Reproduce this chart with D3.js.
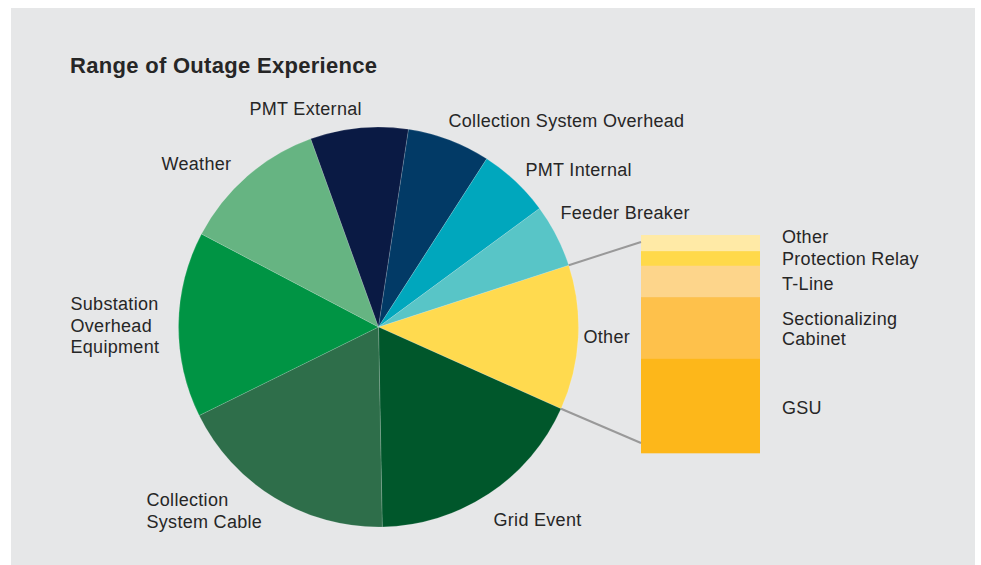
<!DOCTYPE html>
<html>
<head>
<meta charset="utf-8">
<script src="https://cdn.jsdelivr.net/npm/d3@7"></script>
<style>
  html, body { margin: 0; padding: 0; background: #fff; }
  svg { display: block; }
  text { font-family: "Liberation Sans", Arial, Helvetica, sans-serif; fill: #262626; letter-spacing: 0.3px; }
</style>
</head>
<body>
<svg id="chart" width="981" height="565"></svg>
<script>
// pie slices, clockwise starting from "Other"
const categories = ['Other', 'Grid Event', 'Collection System Cable', 'Substation Overhead Equipment',
  'Weather', 'PMT External', 'Collection System Overhead', 'PMT Internal', 'Feeder Breaker'];
const shares = [11.7, 18.0, 18.0, 15.0, 11.8, 7.9, 6.7, 5.8, 5.1];
const sliceColors = ['#ffda4f', '#00572b', '#2e6e4a', '#009444', '#66b482', '#0a1a44', '#023a66', '#00a7bd', '#58c5c7'];

// breakdown of "Other", top to bottom
const otherParts = ['Other', 'Protection Relay', 'T-Line', 'Sectionalizing Cabinet', 'GSU'];
const otherShares = [7.4, 6.7, 14.4, 28.3, 43.2];
const partColors = ['#ffeaa6', '#ffd94a', '#fdd58b', '#fec14b', '#fdb71a'];

const svg = d3.select('#chart');

svg.append('rect')
  .attr('x', 11).attr('y', 8)
  .attr('width', 964).attr('height', 557)
  .style('fill', '#e6e7e8');

svg.append('text')
  .attr('x', 70).attr('y', 73)
  .style('font-size', '22px')
  .style('font-weight', 'bold')
  .text('Range of Outage Experience');

const cx = 378.5, cy = 327, radius = 200;
const startDeg = 72;

const pie = d3.pie().sort(null).value(d => d)
  .startAngle(startDeg * Math.PI / 180)
  .endAngle((startDeg + 360) * Math.PI / 180);
const arcs = pie(shares);
const arc = d3.arc().innerRadius(0).outerRadius(radius);

const pieG = svg.append('g').attr('transform', `translate(${cx}, ${cy})`);

pieG.selectAll('path.slice')
  .data(arcs).enter().append('path')
  .attr('class', 'slice')
  .attr('d', arc)
  .style('fill', (d, i) => sliceColors[i])
  .style('stroke', 'rgba(255,255,255,0.25)')
  .style('stroke-width', '0.6px');

// label anchors, offsets from pie centre
const sliceLabelLayout = [
  { dx: 205, dy: 16, lines: ['Other'] },
  { dx: 115, dy: 199, lines: ['Grid Event'] },
  { dx: -232, dy: 179, lines: ['Collection', 'System Cable'] },
  { dx: -308, dy: -17, lines: ['Substation', 'Overhead', 'Equipment'] },
  { dx: -217, dy: -157, lines: ['Weather'] },
  { dx: -129, dy: -212, lines: ['PMT External'] },
  { dx: 70, dy: -200, lines: ['Collection System Overhead'] },
  { dx: 147, dy: -151, lines: ['PMT Internal'] },
  { dx: 182, dy: -108, lines: ['Feeder Breaker'] }
];

sliceLabelLayout.forEach(l => {
  const t = pieG.append('text')
    .attr('x', l.dx).attr('y', l.dy)
    .style('font-size', '18px');
  l.lines.forEach((line, j) => {
    t.append('tspan').attr('x', l.dx).attr('dy', j === 0 ? 0 : 21.5).text(line);
  });
});

// stacked bar for the "Other" breakdown
const barLeft = 641, barWidth = 119, barTop = 235, barBottom = 453;
const total = d3.sum(otherShares);
const yScale = d3.scaleLinear().domain([0, total]).range([barTop, barBottom]);
const cum = d3.cumsum(otherShares);
const stack = otherShares.map((v, i) => ({ name: otherParts[i], y0: cum[i] - v, y1: cum[i] }));

svg.selectAll('rect.part')
  .data(stack).enter().append('rect')
  .attr('class', 'part')
  .attr('x', barLeft)
  .attr('width', barWidth)
  .attr('y', d => yScale(d.y0))
  .attr('height', d => yScale(d.y1) - yScale(d.y0) + 0.3)
  .style('fill', (d, i) => partColors[i]);

// connector lines from the Other slice edges to the bar
const otherArc = arcs[0];
const edgePoint = a => [cx + radius * Math.sin(a), cy - radius * Math.cos(a)];
const p0 = edgePoint(otherArc.startAngle);
const p1 = edgePoint(otherArc.endAngle);
svg.append('line')
  .attr('x1', p0[0]).attr('y1', p0[1])
  .attr('x2', barLeft).attr('y2', barTop + 7)
  .style('stroke', '#999').style('stroke-width', '2px');
svg.append('line')
  .attr('x1', p1[0]).attr('y1', p1[1])
  .attr('x2', barLeft).attr('y2', barBottom - 10)
  .style('stroke', '#999').style('stroke-width', '2px');

// bar labels, baseline offsets from each segment's middle
const partLabelShift = [0, 7, 9, -3, 8];
const labelX = 782;
stack.forEach((d, i) => {
  const mid = (yScale(d.y0) + yScale(d.y1)) / 2;
  const lines = d.name === 'Sectionalizing Cabinet' ? ['Sectionalizing', 'Cabinet'] : [d.name];
  const t = svg.append('text')
    .attr('x', labelX)
    .attr('y', mid + partLabelShift[i])
    .style('font-size', '18px');
  lines.forEach((line, j) => {
    t.append('tspan').attr('x', labelX).attr('dy', j === 0 ? 0 : 20.5).text(line);
  });
});
</script>
</body>
</html>
